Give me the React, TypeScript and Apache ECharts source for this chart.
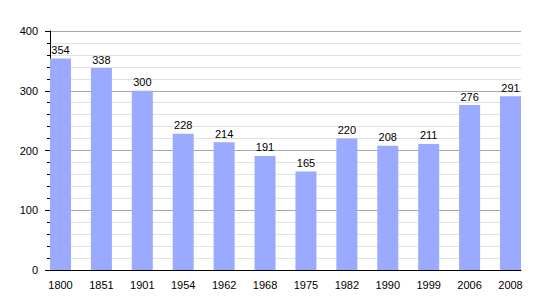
import React, { useEffect, useRef } from "react";
import * as echarts from "echarts";

const years = ["1800", "1851", "1901", "1954", "1962", "1968", "1975", "1982", "1990", "1999", "2006", "2008"];
const population = [354, 338, 300, 228, 214, 191, 165, 220, 208, 211, 276, 291];

const FONT = "'Liberation Sans', Arial, Helvetica, sans-serif";

export default function App() {
  const ref = useRef<HTMLDivElement>(null);
  useEffect(() => {
    if (!ref.current) return;
    const chart = echarts.init(ref.current, null, { renderer: "svg" });
    chart.setOption({
      animation: false,
      backgroundColor: "#ffffff",
      textStyle: { fontFamily: FONT },
      grid: [
        { left: 60.5, top: 31, width: 450, height: 239 },
        { left: 50, top: 31, width: 471, height: 239 },
      ],
      xAxis: [
        {
          type: "category",
          gridIndex: 0,
          data: years,
          boundaryGap: false,
          axisLine: { show: false },
          axisTick: { show: false },
          splitLine: { show: false },
          axisLabel: { color: "#000", fontSize: 11, margin: 9, fontFamily: FONT, interval: 0 },
        },
        {
          type: "value",
          gridIndex: 1,
          min: 0,
          max: 1,
          axisLine: { show: true, lineStyle: { color: "#000", width: 1 } },
          axisTick: { show: false },
          axisLabel: { show: false },
          splitLine: { show: false },
        },
      ],
      yAxis: [
        {
          type: "value",
          gridIndex: 0,
          min: 0,
          max: 400,
          show: false,
          splitLine: { show: false },
        },
        {
          type: "value",
          gridIndex: 1,
          min: 0,
          max: 400,
          interval: 100,
          axisLine: { show: true, lineStyle: { color: "#000", width: 1 } },
          axisTick: { show: true, length: 5, lineStyle: { color: "#000" } },
          minorTick: { show: true, splitNumber: 5, length: 3, lineStyle: { color: "#000" } },
          splitLine: { show: true, lineStyle: { color: "#a8a8a8", width: 1 } },
          minorSplitLine: { show: true, lineStyle: { color: "#e2e2e2", width: 1 } },
          axisLabel: { color: "#000", fontSize: 11, margin: 12, fontFamily: FONT },
        },
      ],
      series: [
        {
          type: "bar",
          xAxisIndex: 0,
          yAxisIndex: 0,
          data: population,
          barWidth: 21,
          itemStyle: { color: "#99aaff" },
          label: {
            show: true,
            position: "top",
            distance: 3,
            color: "#000",
            fontSize: 11,
            fontFamily: FONT,
          },
        },
      ],
    });
    return () => chart.dispose();
  }, []);
  return (
    <div
      ref={ref}
      style={{ position: "fixed", left: 0, top: 0, width: 550, height: 300, background: "#fff" }}
    />
  );
}
